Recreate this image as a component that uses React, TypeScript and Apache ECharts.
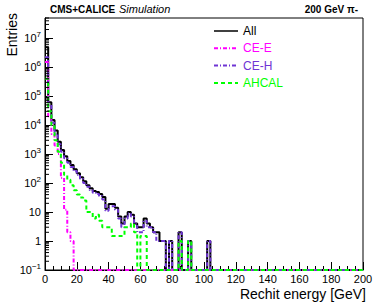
import React, { useEffect, useRef } from "react";
import * as echarts from "echarts";

// Histogram: 100 bins of 2 GeV from 0 to 200 GeV
const BIN_WIDTH = 2;
const N_BINS = 100;
const X_MIN = 0;
const X_MAX = 200;
const Y_MIN = 0.1;
const Y_MAX = 5e7;

// Bin contents (bins not listed are empty)
const allCounts = [
  4.9e6, 6.2e4, 1.5e4, 6.5e3, 2.7e3, 1.4e3, 850, 580, 420, 300,
  220, 160, 115, 85, 67, 53, 49, 42, 33, 13,
  19, 19, 14, 7, 4, 7, 10, 8, 4, 3,
  3, 6, 4, 3, 2, 2, 1, 1, 0, 1,
  0, 0, 2, 0, 0, 1, 0, 0, 0, 0,
  0, 1,
];
const ceECounts = [1.5e6, 2e4, 5e3, 2e3, 1e3, 150, 12, 2, 1, 0];
const ceHCounts = [
  2.2e6, 5e4, 1.2e4, 5e3, 2.2e3, 1.2e3, 720, 500, 360, 260,
  190, 140, 100, 75, 58, 46, 42, 36, 27, 11,
  16, 16, 12, 6, 3, 6, 9, 7, 4, 2,
  2, 5, 3, 3, 2, 1, 1, 1, 0, 1,
  0, 0, 2, 0, 0, 1, 0, 0, 0, 0,
  0, 1,
];
const ahcalCounts = [
  4e5, 3e4, 1e4, 3e3, 1.2e3, 500, 190, 130, 85, 57,
  40, 32, 25, 10, 10, 6, 8, 5, 3, 3,
  3, 1.5, 1.5, 1.5, 1.5, 3, 3, 4, 2, 0,
  1.5, 1.5, 0, 0, 0, 0, 0, 0, 0, 0,
  0, 0, 1, 0, 0, 1,
];

const seriesNames = ["All", "CE-E", "CE-H", "AHCAL"];
const seriesColors = ["#000000", "#ff00ff", "#6f35d4", "#00ff00"];
const seriesDashes: any[] = [null, [4, 2, 1, 2], [4, 2, 1, 2], [4, 3]];

const FONT = "'Liberation Sans', Arial, Helvetica, sans-serif";

function toStep(counts: number[]): number[][] {
  const pts: number[][] = [];
  for (let i = 0; i < N_BINS; i++) {
    const v = i < counts.length ? counts[i] : 0;
    pts.push([X_MIN + i * BIN_WIDTH, v > 0 ? v : Y_MIN]);
  }
  const last = pts[pts.length - 1][1];
  pts.push([X_MAX, last]);
  return pts;
}

// minor tick positions of the log axis (2..9 x 10^k)
function logMinorTicks(): number[][] {
  const out: number[][] = [];
  for (let k = -1; k <= 7; k++) {
    for (let m = 2; m <= 9; m++) {
      const v = m * Math.pow(10, k);
      if (v <= Y_MAX) out.push([X_MIN, v]);
    }
  }
  return out;
}

export default function App() {
  const ref = useRef<HTMLDivElement>(null);
  useEffect(() => {
    if (!ref.current) return;
    const chart = echarts.init(ref.current, null, { renderer: "svg" });
    const countsList = [allCounts, ceECounts, ceHCounts, ahcalCounts];
    const lineSeries = seriesNames.map((name, i) => ({
      name,
      type: "line",
      step: "end",
      symbol: "none",
      data: toStep(countsList[i]),
      lineStyle: { color: seriesColors[i], width: 2, type: seriesDashes[i] || "solid" },
      itemStyle: { color: seriesColors[i] },
      clip: true,
      z: 2 + i,
    }));

    // legend drawn as graphic elements
    const legendEls: any[] = [];
    const legX = 214;
    const legY0 = 31;
    const legDy = 17.3;
    seriesNames.forEach((n, i) => {
      const y = legY0 + i * legDy;
      legendEls.push({
        type: "line",
        shape: { x1: legX, y1: y, x2: legX + 24, y2: y },
        style: {
          stroke: seriesColors[i],
          lineWidth: i === 0 ? 1.5 : 2,
          lineDash: seriesDashes[i] || null,
        },
      });
      legendEls.push({
        type: "text",
        x: legX + 29,
        y,
        style: { text: n, font: "12px " + FONT, fill: seriesColors[i], verticalAlign: "middle" },
      });
    });

    chart.setOption({
      animation: false,
      backgroundColor: "#ffffff",
      grid: {
        left: 45,
        right: 18,
        top: 18,
        bottom: 37,
        show: true,
        borderColor: "#000",
        borderWidth: 1,
        backgroundColor: "transparent",
      },
      xAxis: {
        type: "value",
        min: X_MIN,
        max: X_MAX,
        interval: 20,
        axisLine: { show: true, lineStyle: { color: "#000", width: 1 } },
        axisTick: { show: true, inside: true, length: 8, lineStyle: { color: "#000" } },
        minorTick: { show: true, splitNumber: 4, length: 4, lineStyle: { color: "#000" } },
        splitLine: { show: false },
        axisLabel: { color: "#000", fontSize: 11, fontFamily: FONT, margin: 3 },
      },
      yAxis: {
        type: "log",
        logBase: 10,
        min: Y_MIN,
        max: Y_MAX,
        splitNumber: 10,
        axisLine: { show: true, lineStyle: { color: "#000", width: 1 } },
        axisTick: { show: true, inside: true, length: 8, lineStyle: { color: "#000" } },
        splitLine: { show: false },
        axisLabel: {
          color: "#000",
          fontFamily: FONT,
          margin: 4,
          showMaxLabel: false,
          formatter: (v: number) => {
            const k = Math.round(Math.log10(v));
            if (Math.abs(Math.log10(v) - k) > 1e-6) return "";
            if (k === 0) return "{b|1}";
            if (k === 1) return "{b|10}";
            return "{b|10}{s|" + (k < 0 ? "\u2212" + -k : String(k)) + "}";
          },
          rich: {
            b: { fontSize: 11, fontFamily: FONT, color: "#000" },
            s: { fontSize: 8, fontFamily: FONT, color: "#000", padding: [0, 0, 7, 0] },
          },
        },
      },
      graphic: [
        {
          type: "text",
          x: 50,
          y: 9,
          style: { text: "CMS+CALICE", font: "bold 10px " + FONT, fill: "#000", verticalAlign: "middle" },
        },
        {
          type: "text",
          x: 119,
          y: 9,
          style: { text: "Simulation", font: "italic 11px " + FONT, fill: "#000", verticalAlign: "middle" },
        },
        {
          type: "text",
          x: 358,
          y: 9,
          style: { text: "200 GeV \u03c0-", font: "bold 10px " + FONT, fill: "#000", align: "right", verticalAlign: "middle" },
        },
        {
          type: "text",
          x: 366,
          y: 294,
          style: { text: "Rechit energy [GeV]", font: "14px " + FONT, fill: "#000", align: "right", verticalAlign: "middle" },
        },
        {
          type: "text",
          x: 12,
          y: 13,
          rotation: Math.PI / 2,
          style: { text: "Entries", font: "14px " + FONT, fill: "#000", align: "right", verticalAlign: "middle" },
        },
        ...legendEls,
      ],
      series: [
        ...lineSeries,
        {
          name: "minorY",
          type: "custom",
          data: logMinorTicks(),
          silent: true,
          z: 10,
          renderItem: (params: any, api: any) => {
            const p = api.coord([X_MIN, api.value(1)]);
            return {
              type: "line",
              shape: { x1: p[0], y1: p[1], x2: p[0] + 4, y2: p[1] },
              style: { stroke: "#000", lineWidth: 1 },
            };
          },
        },
      ],
    });
    return () => chart.dispose();
  }, []);
  return (
    <div
      ref={ref}
      style={{ position: "absolute", left: 0, top: 0, width: 381, height: 307 }}
    />
  );
}
